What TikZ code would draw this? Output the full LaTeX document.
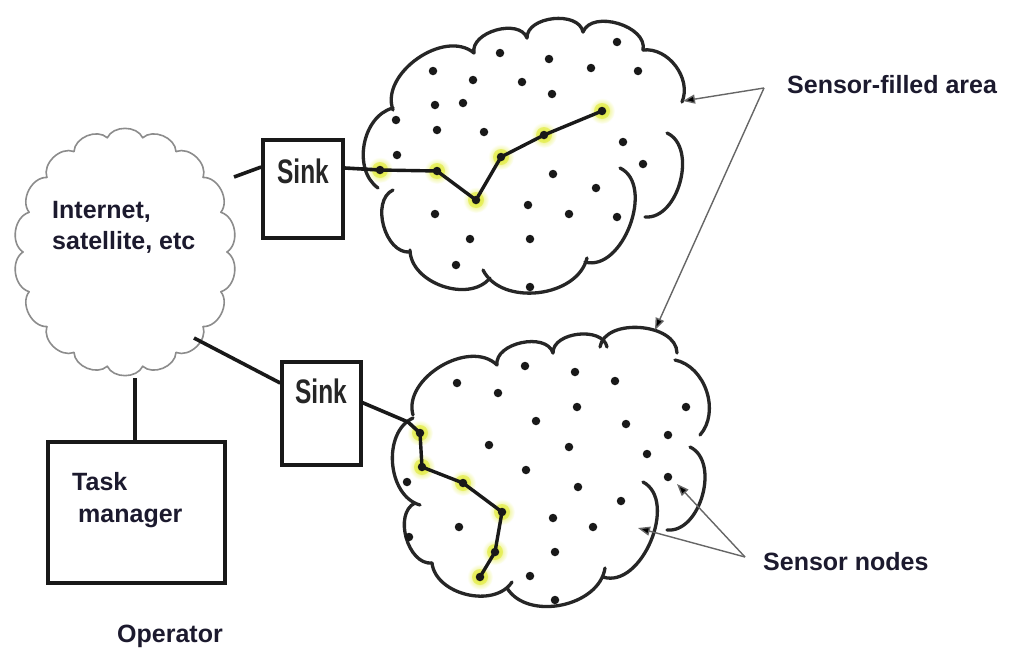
\documentclass[tikz,border=0pt]{standalone}
\usepackage{fontspec}
\setmainfont{Liberation Sans}
\usepackage{graphicx}
\usetikzlibrary{arrows.meta}
\definecolor{txt}{HTML}{1C1A2E}
\definecolor{halo}{RGB}{225,235,55}
\tikzset{
  cl/.style={line width=3.3pt, draw=black!85, line cap=round},
  icl/.style={line width=1.6pt, draw=black!45, line cap=round},
  link/.style={line width=3.6pt, draw=black!90},
  chain/.style={line width=3.4pt, draw=black!90},
  box/.style={draw=black!90, line width=3.6pt, fill=white, inner sep=0pt},
  dot/.style={circle, fill=black!90, inner sep=0pt, minimum size=8.5pt},
  ydot/.style={circle, fill=black!90, inner sep=0pt, minimum size=8.5pt},
  lbl/.style={font=\fontsize{25}{30}\selectfont\bfseries, text=txt, inner sep=0pt},
  ptr/.style={line width=1.4pt, draw=black!60, -{Triangle[length=12pt,width=9pt,fill=black]}},
}
\newcommand{\haloat}[1]{\shade[inner color=halo, outer color=white] #1 circle (13pt);
  \fill[halo, opacity=0.6] #1 circle (8pt);}
\begin{document}
\begin{tikzpicture}[x=1pt,y=-1pt]
\useasboundingbox[fill=white] (0,0) rectangle (1013,648);

% ---------- Internet cloud ----------
\foreach \i in {0,...,17}{
  \pgfmathsetmacro{\a}{\i*20}
  \pgfmathsetmacro{\b}{(\i+1)*20}
  \draw[icl] ({125+102*cos(\a)},{252+116*sin(\a)}) to[bend left=65] ({125+102*cos(\b)},{252+116*sin(\b)});
}
\node[lbl, anchor=base west] (inet1) at (52,218) {Internet,};
\node[lbl, anchor=base west] (inet2) at (52,249) {satellite, etc};
\coordinate (ictop) at (234,177);
\coordinate (icbot) at (194,338);
\coordinate (icdown) at (135,378);

% ---------- halos ----------
\foreach \p in {(380,170),(437,171),(476,200),(501,157),(544,135),(602,111),
                (420,433),(422,467),(463,483),(502,512),(495,552),(480,577)}{
  \haloat{\p}
}

% ---------- top sensor cloud ----------
\draw[cl] (393,110) to[bend left=75] (474,53);
\draw[cl] (474,53) to[bend left=85] (527,38);
\draw[cl] (527,38) to[bend left=85] (583,32);
\draw[cl] (583,32) to[bend left=85] (643,50);
\draw[cl] (643,50) to[bend left=60] (682,102);
\draw[cl] (667,133) to[bend left=80] (645,217);
\draw[cl] (620,168) to[bend left=85] (585,262);
\draw[cl] (587,258) to[bend left=70] (483,270);
\draw[cl] (490,278) to[bend left=70] (410,250);
\draw[cl] (410,252) to[bend left=80] (393,190);
\draw[cl] (378,188) to[bend left=65] (393,108);

% ---------- bottom sensor cloud ----------
\draw[cl] (413,415) to[bend left=75] (497,365);
\draw[cl] (497,365) to[bend left=85] (553,353);
\draw[cl] (553,353) to[bend left=85] (607,347);
\draw[cl] (600,347) to[bend left=85] (677,353);
\draw[cl] (675,360) to[bend left=60] (700,435);
\draw[cl] (690,447) to[bend left=80] (667,530);
\draw[cl] (643,482) to[bend left=85] (603,577);
\draw[cl] (605,568) to[bend left=70] (507,588);
\draw[cl] (512,582) to[bend left=70] (432,563);
\draw[cl] (432,563) to[bend left=80] (415,503);
\draw[cl] (420,505) to[bend left=70] (413,418);

% ---------- top cloud dots ----------
\foreach \x/\y [count=\n] in {500/53,549/59,617/42,433/71,473/80,522/82,591/68,638/71,552/94,
  435/105,463/103,396/120,437/130,484/132,623/142,397/155,643/164,553/174,596/188,
  435/214,528/205,569/214,617/217,470/239,530/239,456/265,530/287}{
  \node[dot] (ta\n) at (\x,\y) {};
}
% ---------- bottom cloud dots ----------
\foreach \x/\y [count=\n] in {525/366,575/372,615/381,457/383,498/393,577/407,686/407,536/421,
  626/424,668/435,489/445,569/447,647/454,526/470,407/482,578/487,668/477,621/501,
  553/518,593/527,459/527,409/537,555/552,530/576,555/600}{
  \node[dot] (ba\n) at (\x,\y) {};
}

% ---------- chains ----------
\node[ydot] (y1) at (380,170) {};
\node[ydot] (y2) at (437,171) {};
\node[ydot] (y3) at (476,200) {};
\node[ydot] (y4) at (501,157) {};
\node[ydot] (y5) at (544,135) {};
\node[ydot] (y6) at (602,111) {};
\draw[chain] (y1.center) -- (y2.center) -- (y3.center) -- (y4.center) -- (y5.center) -- (y6.center);

\node[ydot] (z1) at (420,433) {};
\node[ydot] (z2) at (422,467) {};
\node[ydot] (z3) at (463,483) {};
\node[ydot] (z4) at (502,512) {};
\node[ydot] (z5) at (495,552) {};
\node[ydot] (z6) at (480,577) {};
\draw[chain] (z1.center) -- (z2.center) -- (z3.center) -- (z4.center) -- (z5.center) -- (z6.center);

% ---------- boxes ----------
\node[box, minimum width=80pt, minimum height=98pt] (sink1) at (303,189) {};
\node[font=\fontsize{34}{36}\selectfont\bfseries, text=black!85, inner sep=0pt, anchor=base] (s1t) at (303,183) {\scalebox{0.72}[1]{Sink}};
\node[box, minimum width=79pt, minimum height=103pt] (sink2) at (321.5,413.5) {};
\node[font=\fontsize{34}{36}\selectfont\bfseries, text=black!85, inner sep=0pt, anchor=base] (s2t) at (321,403) {\scalebox{0.72}[1]{Sink}};

\node[box, minimum width=177pt, minimum height=141pt] (task) at (136.5,512.5) {};
\node[lbl, anchor=base west] (tm1) at (72,490) {Task};
\node[lbl, anchor=base west] (tm2) at (78,522) {manager};
\node[lbl, anchor=base west] (op) at (117,642) {Operator};

% ---------- links ----------
\draw[link] (ictop) -- (sink1.west |- 0,167);
\draw[link] (sink1.east |- 0,168) -- (y1.center);
\draw[link] (icbot) -- (sink2.west |- 0,383);
\coordinate (s2out) at (361,402);
\draw[link] (s2out) -- (408,422) -- (z1.center);
\draw[link] (icdown) -- (task.north -| icdown);

% ---------- labels with pointers ----------
\node[lbl, anchor=base west] (sfa) at (787,93) {Sensor-filled area};
\coordinate (apex1) at (764,88);
\coordinate (tip1) at (683,101);
\coordinate (tip2) at (655,330);
\draw[ptr] (apex1) -- (tip1);
\draw[ptr] (apex1) -- (tip2);

\node[lbl, anchor=base west] (sn) at (763,570) {Sensor nodes};
\coordinate (apex2) at (745,557);
\coordinate (tip3) at (677,484);
\coordinate (tip4) at (638,528);
\draw[ptr] (apex2) -- (tip3);
\draw[ptr] (apex2) -- (tip4);
\end{tikzpicture}
\end{document}
